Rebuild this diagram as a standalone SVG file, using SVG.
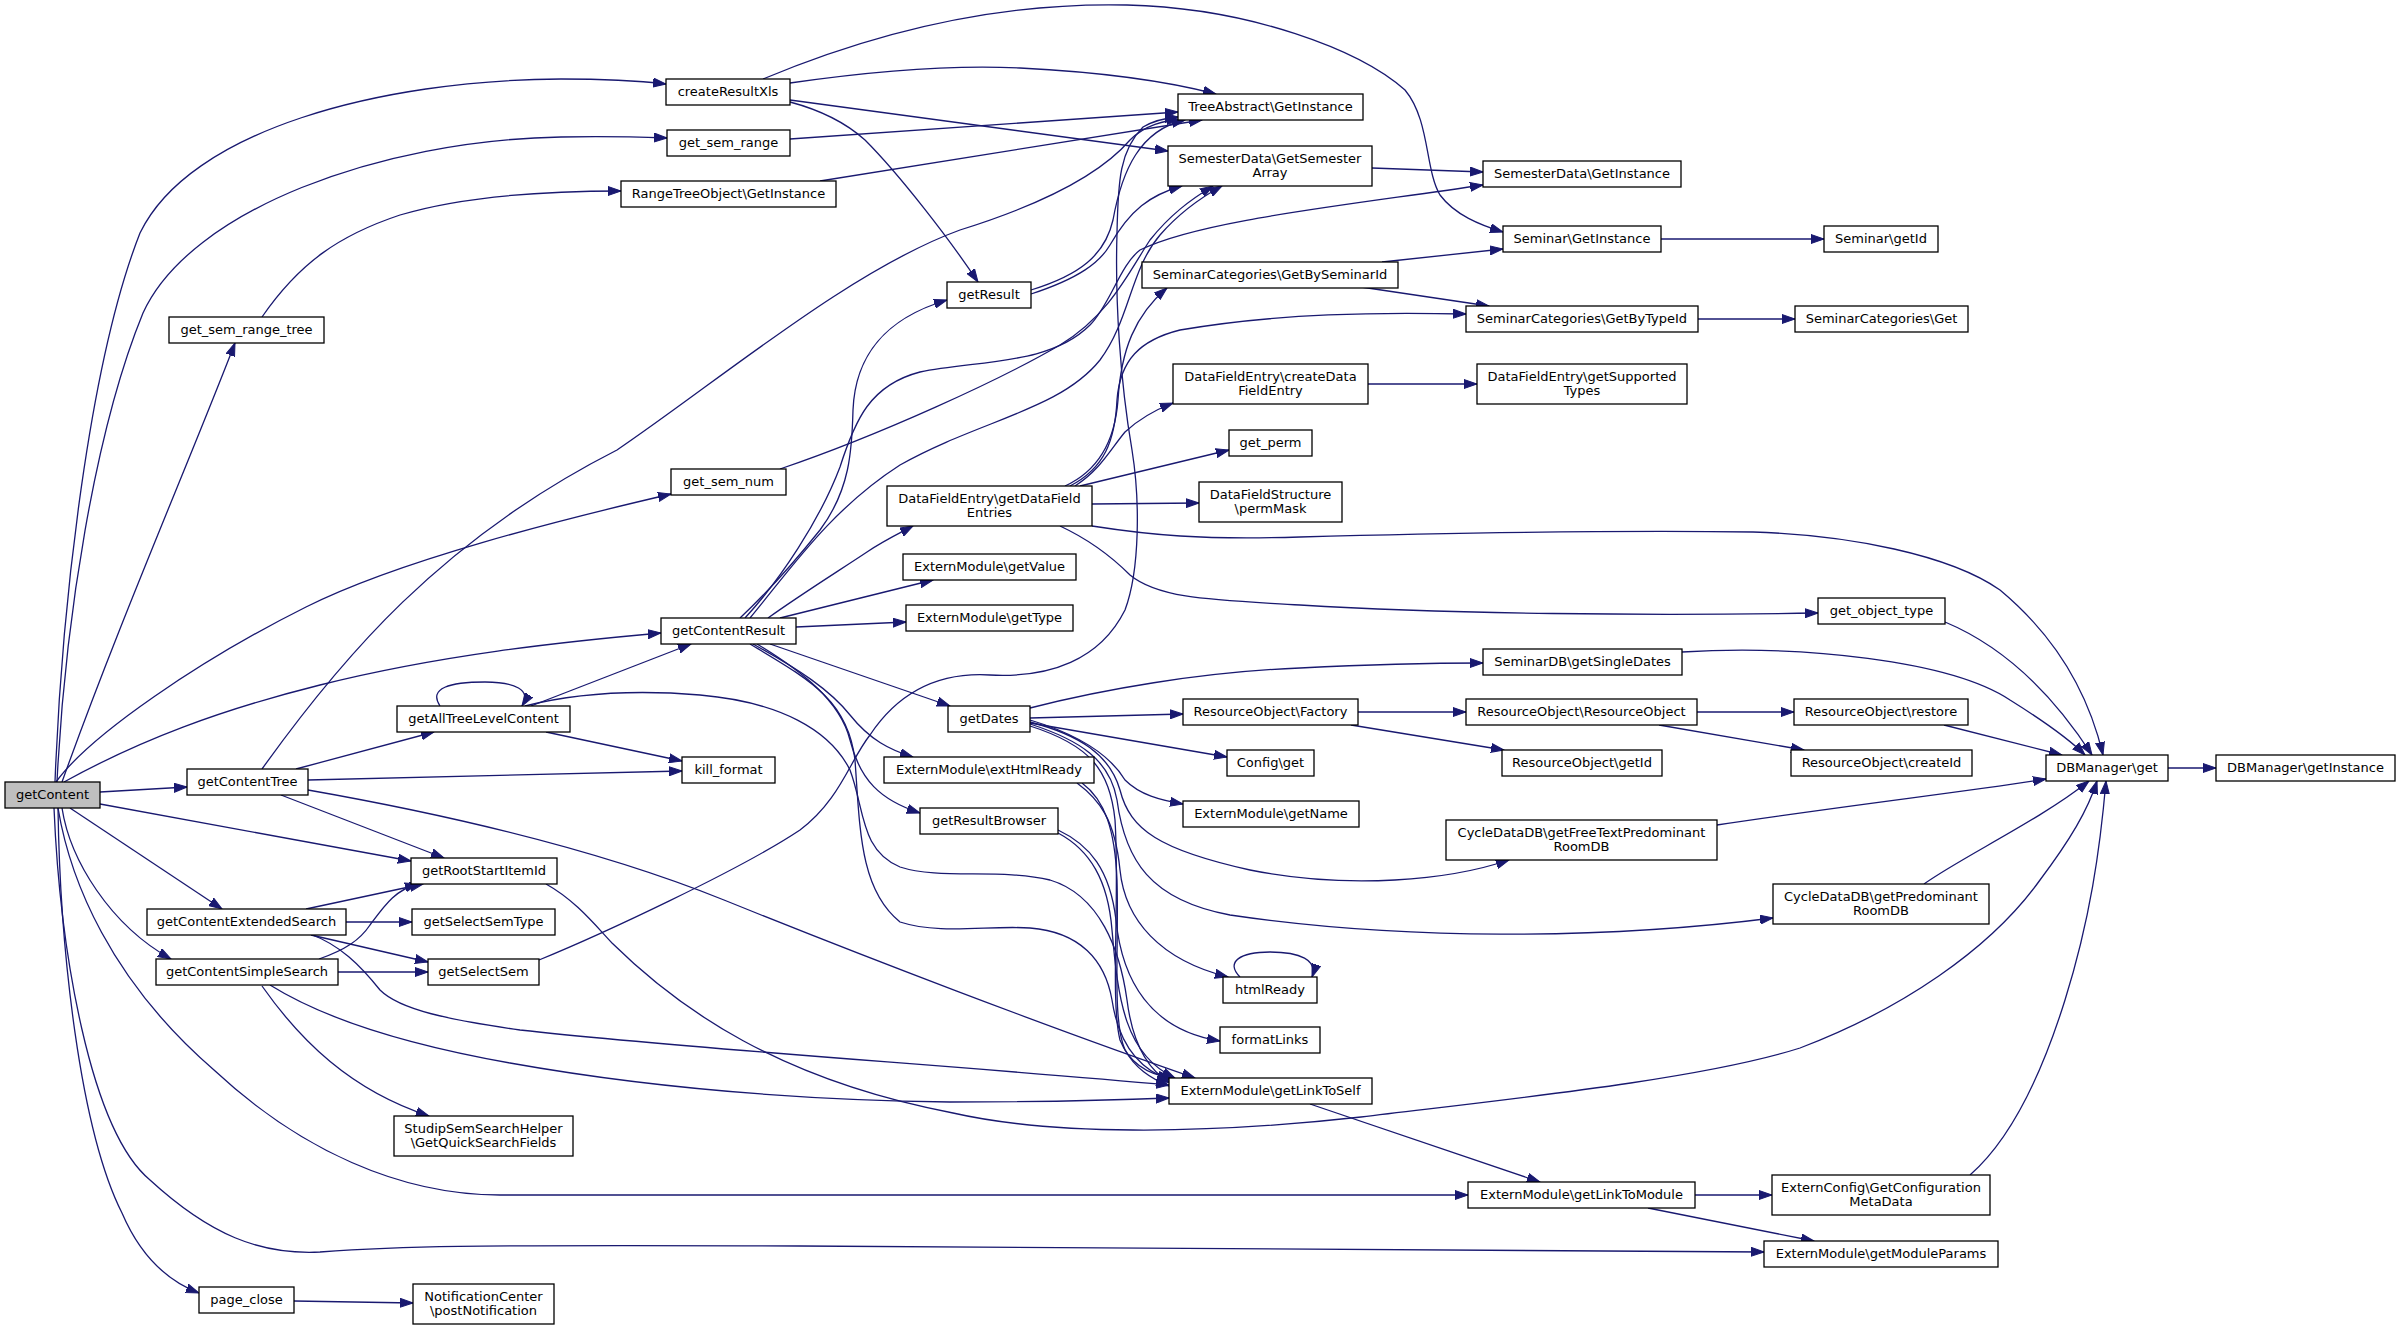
<svg xmlns="http://www.w3.org/2000/svg" width="2401" height="1330" viewBox="0 0 2401 1330">
<style>
.n rect{fill:#fff;stroke:#000;stroke-width:1.3}
.root rect{fill:#bfbfbf}
text{font-family:"DejaVu Sans","Liberation Sans",sans-serif;font-size:13px;fill:#000;text-anchor:middle}
#edges path{fill:none;stroke:#191970;stroke-width:1.3;marker-end:url(#a)}
</style>
<defs>
<marker id="a" markerUnits="userSpaceOnUse" markerWidth="14" markerHeight="10" refX="13" refY="5" orient="auto" viewBox="0 0 14 10"><path d="M0,0.5 L13,5 L0,9.5 z" fill="#191970" stroke="#191970" stroke-width="1"/></marker>
</defs>
<rect width="2401" height="1330" fill="#fff"/>
<g id="edges">
<path d="M55,782 C62,600 90,360 140,233 C190,130 380,80 561,79 C600,79 640,81 666,84"/>
<path d="M57,782 C65,620 95,430 143,313 C190,210 380,140 561,137 C600,136 640,137 667,138"/>
<path d="M62,782 C120,620 190,460 235,343"/>
<path d="M262,317 C300,262 340,235 400,215 C460,197 540,191 621,191"/>
<path d="M56,782 C90,735 200,660 306,607 C400,560 560,520 671,494"/>
<path d="M64,782 C140,740 220,710 320,685 C440,655 560,642 661,633"/>
<path d="M100,792 L187,787"/>
<path d="M100,804 L411,861"/>
<path d="M70,808 L222,909"/>
<path d="M62,808 C70,860 110,925 171,959"/>
<path d="M58,808 C70,880 110,980 214,1070 C300,1150 400,1195 500,1195 L1468,1195"/>
<path d="M54,808 C60,950 90,1130 150,1180 C210,1235 260,1255 320,1252 C400,1246 450,1245 800,1246 C1200,1247 1500,1248 1764,1252"/>
<path d="M58,808 C60,950 80,1130 122,1213 C140,1255 165,1280 199,1293"/>
<path d="M763,79 C880,30 1000,2 1127,5 C1250,8 1360,50 1405,90 C1430,120 1425,170 1440,195 C1455,215 1480,225 1503,232"/>
<path d="M790,83 C880,70 960,65 1020,68 C1100,72 1170,82 1216,94"/>
<path d="M790,100 L1168,151"/>
<path d="M790,102 C820,110 845,122 865,140 C900,175 950,240 978,282"/>
<path d="M790,139 L1178,112"/>
<path d="M820,181 L1202,120"/>
<path d="M262,769 C340,660 440,540 617,450 C720,380 850,270 960,230 C1040,205 1100,175 1130,140 C1145,125 1165,120 1180,120"/>
<path d="M1031,290 C1080,275 1105,255 1113,220 C1122,170 1140,130 1185,120"/>
<path d="M1031,294 C1080,278 1100,262 1110,245 C1130,210 1150,195 1182,186"/>
<path d="M539,960 C600,935 740,870 800,830 C840,800 850,760 870,735 C900,690 940,672 990,675 C1050,678 1100,660 1125,610 C1140,570 1140,500 1132,450 C1120,380 1115,300 1117,233 C1118,180 1120,150 1143,127 C1155,120 1165,118 1178,117"/>
<path d="M780,469 C880,435 1000,380 1060,345 C1110,315 1130,270 1150,240 C1170,215 1190,200 1213,186"/>
<path d="M740,618 C770,590 800,555 820,530 C850,490 852,450 853,410 C855,360 880,320 947,300"/>
<path d="M745,618 C780,580 820,520 840,467 C855,420 870,385 920,372 C980,360 1050,365 1090,325 C1110,305 1120,265 1140,250 C1200,220 1350,205 1483,185"/>
<path d="M750,618 C790,570 830,510 900,465 C980,420 1060,410 1100,360 C1130,320 1130,270 1160,235 C1180,212 1200,198 1222,186"/>
<path d="M768,618 C800,595 840,570 867,552 C885,540 900,533 913,526"/>
<path d="M780,618 L933,580"/>
<path d="M796,627 L906,622"/>
<path d="M770,644 L950,706"/>
<path d="M753,644 C800,670 830,690 850,715 C870,740 890,750 913,757"/>
<path d="M757,644 C800,670 840,700 850,740 C860,780 880,800 920,813"/>
<path d="M750,644 C810,680 848,700 855,760 C860,830 860,890 900,922 C940,935 990,925 1030,928 C1080,932 1105,960 1112,1000 C1118,1040 1135,1068 1170,1080"/>
<path d="M440,706 C428,688 450,682 485,682 C515,682 532,690 522,706"/>
<path d="M531,706 L691,644"/>
<path d="M546,732 L682,761"/>
<path d="M525,706 C580,692 640,690 700,695 C780,702 830,730 850,770 C865,810 860,850 900,867 C940,880 1000,868 1050,880 C1100,895 1120,950 1127,1000 C1132,1040 1145,1068 1170,1083"/>
<path d="M296,769 L434,732"/>
<path d="M308,780 L682,771"/>
<path d="M281,795 L444,858"/>
<path d="M308,790 C450,815 600,850 724,900 C860,955 1050,1028 1195,1078"/>
<path d="M546,884 C575,900 595,925 612,943 C680,1010 780,1080 953,1113 C1050,1135 1200,1135 1361,1117 C1500,1100 1700,1080 1800,1048 C1900,1010 1990,950 2040,880 C2070,840 2088,810 2097,781"/>
<path d="M306,909 L423,884"/>
<path d="M346,922 L412,922"/>
<path d="M311,935 L428,962"/>
<path d="M310,934 C340,945 360,965 380,990 C400,1010 450,1020 520,1030 C700,1050 950,1065 1169,1085"/>
<path d="M319,959 C345,950 360,940 370,925 C385,905 395,890 418,884"/>
<path d="M338,972 L428,972"/>
<path d="M262,986 C300,1040 350,1090 429,1116"/>
<path d="M270,985 C310,1010 380,1040 510,1063 C650,1088 800,1100 950,1102 C1050,1102 1120,1100 1169,1098"/>
<path d="M1065,486 C1100,470 1115,440 1118,400 C1121,350 1135,315 1167,288"/>
<path d="M1070,486 C1105,468 1115,440 1117,400 C1120,360 1140,340 1180,330 C1280,313 1380,312 1466,314"/>
<path d="M1075,486 C1100,470 1110,450 1125,432 C1140,418 1155,410 1173,403"/>
<path d="M1080,486 L1229,450"/>
<path d="M1092,504 L1199,503"/>
<path d="M1092,526 C1150,535 1200,540 1300,537 C1450,533 1600,530 1753,532 C1850,535 1950,555 2000,590 C2060,640 2090,700 2103,755"/>
<path d="M1060,526 C1090,540 1110,555 1130,575 C1160,600 1220,600 1300,605 C1450,614 1650,616 1818,613"/>
<path d="M1030,708 C1100,690 1200,672 1300,668 C1380,664 1440,663 1483,663"/>
<path d="M1030,718 L1183,714"/>
<path d="M1030,723 L1227,757"/>
<path d="M1030,720 C1080,735 1110,755 1125,780 C1140,795 1160,800 1183,804"/>
<path d="M1030,722 C1080,735 1110,755 1120,790 C1130,830 1160,850 1250,870 C1350,890 1450,880 1509,860"/>
<path d="M1030,724 C1080,740 1110,760 1117,800 C1125,860 1150,900 1230,915 C1400,940 1600,940 1773,918"/>
<path d="M1030,726 C1090,745 1110,770 1115,820 C1120,900 1110,1000 1120,1040 C1130,1065 1150,1075 1172,1078"/>
<path d="M1077,783 C1100,800 1115,820 1120,870 C1125,920 1160,960 1228,977"/>
<path d="M1082,783 C1105,800 1115,830 1117,880 C1119,950 1112,1020 1125,1050 C1135,1068 1150,1078 1169,1086"/>
<path d="M1058,830 C1090,845 1110,870 1116,920 C1122,980 1150,1030 1220,1041"/>
<path d="M1058,833 C1090,850 1108,880 1112,930 C1118,1000 1125,1055 1175,1078"/>
<path d="M1240,977 C1225,962 1240,952 1270,952 C1300,952 1318,960 1312,977"/>
<path d="M1310,1104 L1540,1182"/>
<path d="M1695,1195 L1772,1195"/>
<path d="M1648,1208 L1814,1241"/>
<path d="M1970,1175 C2010,1140 2040,1080 2065,1000 C2090,920 2100,850 2106,781"/>
<path d="M1924,884 C1960,858 2040,820 2089,781"/>
<path d="M1717,825 C1850,805 1980,790 2046,779"/>
<path d="M1945,622 C2000,645 2050,690 2092,755"/>
<path d="M1682,652 C1800,645 1950,660 2010,700 C2050,725 2070,740 2085,755"/>
<path d="M1944,725 L2062,755"/>
<path d="M2168,768 L2216,768"/>
<path d="M1358,712 L1466,712"/>
<path d="M1351,725 L1504,750"/>
<path d="M1697,712 L1794,712"/>
<path d="M1659,725 L1804,750"/>
<path d="M1382,262 L1503,249"/>
<path d="M1361,287 L1489,306"/>
<path d="M1372,168 L1483,172"/>
<path d="M1661,239 L1824,239"/>
<path d="M1698,319 L1795,319"/>
<path d="M1368,384 L1477,384"/>
<path d="M294,1301 L413,1303"/>
</g>
<g id="n_getContent" class="n root"><rect x="5" y="782" width="95" height="26"/><text x="52.5" y="798.5">getContent</text></g>
<g id="n_createResultXls" class="n"><rect x="666" y="79" width="124" height="26"/><text x="728" y="95.5">createResultXls</text></g>
<g id="n_get_sem_range" class="n"><rect x="667" y="130" width="123" height="26"/><text x="728.5" y="146.5">get_sem_range</text></g>
<g id="n_RangeTreeObject_GetInstance" class="n"><rect x="621" y="181" width="215" height="26"/><text x="728.5" y="197.5">RangeTreeObject\GetInstance</text></g>
<g id="n_get_sem_range_tree" class="n"><rect x="169" y="317" width="155" height="26"/><text x="246.5" y="333.5">get_sem_range_tree</text></g>
<g id="n_TreeAbstract_GetInstance" class="n"><rect x="1178" y="94" width="185" height="26"/><text x="1270.5" y="110.5">TreeAbstract\GetInstance</text></g>
<g id="n_SemesterData_GetSemesterArray" class="n"><rect x="1168" y="146" width="204" height="40"/><text x="1270" y="163">SemesterData\GetSemester</text><text x="1270" y="177">Array</text></g>
<g id="n_SemesterData_GetInstance" class="n"><rect x="1483" y="161" width="198" height="26"/><text x="1582" y="177.5">SemesterData\GetInstance</text></g>
<g id="n_Seminar_GetInstance" class="n"><rect x="1503" y="226" width="158" height="26"/><text x="1582" y="242.5">Seminar\GetInstance</text></g>
<g id="n_Seminar_getId" class="n"><rect x="1824" y="226" width="114" height="26"/><text x="1881" y="242.5">Seminar\getId</text></g>
<g id="n_getResult" class="n"><rect x="947" y="282" width="84" height="26"/><text x="989" y="298.5">getResult</text></g>
<g id="n_SeminarCategories_GetBySeminarId" class="n"><rect x="1142" y="262" width="256" height="26"/><text x="1270" y="278.5">SeminarCategories\GetBySeminarId</text></g>
<g id="n_SeminarCategories_GetByTypeId" class="n"><rect x="1466" y="306" width="232" height="26"/><text x="1582" y="322.5">SeminarCategories\GetByTypeId</text></g>
<g id="n_SeminarCategories_Get" class="n"><rect x="1795" y="306" width="173" height="26"/><text x="1881.5" y="322.5">SeminarCategories\Get</text></g>
<g id="n_DataFieldEntry_createDataFieldEntry" class="n"><rect x="1173" y="364" width="195" height="40"/><text x="1270.5" y="381">DataFieldEntry\createData</text><text x="1270.5" y="395">FieldEntry</text></g>
<g id="n_DataFieldEntry_getSupportedTypes" class="n"><rect x="1477" y="364" width="210" height="40"/><text x="1582" y="381">DataFieldEntry\getSupported</text><text x="1582" y="395">Types</text></g>
<g id="n_get_perm" class="n"><rect x="1229" y="430" width="83" height="26"/><text x="1270.5" y="446.5">get_perm</text></g>
<g id="n_get_sem_num" class="n"><rect x="671" y="469" width="115" height="26"/><text x="728.5" y="485.5">get_sem_num</text></g>
<g id="n_DataFieldEntry_getDataFieldEntries" class="n"><rect x="887" y="486" width="205" height="40"/><text x="989.5" y="503">DataFieldEntry\getDataField</text><text x="989.5" y="517">Entries</text></g>
<g id="n_DataFieldStructure_permMask" class="n"><rect x="1199" y="482" width="143" height="40"/><text x="1270.5" y="499">DataFieldStructure</text><text x="1270.5" y="513">\permMask</text></g>
<g id="n_ExternModule_getValue" class="n"><rect x="903" y="554" width="173" height="26"/><text x="989.5" y="570.5">ExternModule\getValue</text></g>
<g id="n_ExternModule_getType" class="n"><rect x="906" y="605" width="167" height="26"/><text x="989.5" y="621.5">ExternModule\getType</text></g>
<g id="n_getContentResult" class="n"><rect x="661" y="618" width="135" height="26"/><text x="728.5" y="634.5">getContentResult</text></g>
<g id="n_get_object_type" class="n"><rect x="1818" y="598" width="127" height="26"/><text x="1881.5" y="614.5">get_object_type</text></g>
<g id="n_SeminarDB_getSingleDates" class="n"><rect x="1483" y="649" width="199" height="26"/><text x="1582.5" y="665.5">SeminarDB\getSingleDates</text></g>
<g id="n_getAllTreeLevelContent" class="n"><rect x="397" y="706" width="173" height="26"/><text x="483.5" y="722.5">getAllTreeLevelContent</text></g>
<g id="n_getDates" class="n"><rect x="948" y="706" width="82" height="26"/><text x="989" y="722.5">getDates</text></g>
<g id="n_ResourceObject_Factory" class="n"><rect x="1183" y="699" width="175" height="26"/><text x="1270.5" y="715.5">ResourceObject\Factory</text></g>
<g id="n_ResourceObject_ResourceObject" class="n"><rect x="1466" y="699" width="231" height="26"/><text x="1581.5" y="715.5">ResourceObject\ResourceObject</text></g>
<g id="n_ResourceObject_restore" class="n"><rect x="1794" y="699" width="174" height="26"/><text x="1881" y="715.5">ResourceObject\restore</text></g>
<g id="n_kill_format" class="n"><rect x="682" y="757" width="93" height="26"/><text x="728.5" y="773.5">kill_format</text></g>
<g id="n_ExternModule_extHtmlReady" class="n"><rect x="884" y="757" width="210" height="26"/><text x="989" y="773.5">ExternModule\extHtmlReady</text></g>
<g id="n_Config_get" class="n"><rect x="1227" y="750" width="87" height="26"/><text x="1270.5" y="766.5">Config\get</text></g>
<g id="n_ResourceObject_getId" class="n"><rect x="1502" y="750" width="160" height="26"/><text x="1582" y="766.5">ResourceObject\getId</text></g>
<g id="n_ResourceObject_createId" class="n"><rect x="1791" y="750" width="181" height="26"/><text x="1881.5" y="766.5">ResourceObject\createId</text></g>
<g id="n_DBManager_get" class="n"><rect x="2046" y="755" width="122" height="26"/><text x="2107" y="771.5">DBManager\get</text></g>
<g id="n_DBManager_getInstance" class="n"><rect x="2216" y="755" width="179" height="26"/><text x="2305.5" y="771.5">DBManager\getInstance</text></g>
<g id="n_getContentTree" class="n"><rect x="187" y="769" width="121" height="26"/><text x="247.5" y="785.5">getContentTree</text></g>
<g id="n_getResultBrowser" class="n"><rect x="920" y="808" width="138" height="26"/><text x="989" y="824.5">getResultBrowser</text></g>
<g id="n_ExternModule_getName" class="n"><rect x="1183" y="801" width="176" height="26"/><text x="1271" y="817.5">ExternModule\getName</text></g>
<g id="n_CycleDataDB_getFreeTextPredominantRoomDB" class="n"><rect x="1446" y="820" width="271" height="40"/><text x="1581.5" y="837">CycleDataDB\getFreeTextPredominant</text><text x="1581.5" y="851">RoomDB</text></g>
<g id="n_getRootStartItemId" class="n"><rect x="411" y="858" width="146" height="26"/><text x="484" y="874.5">getRootStartItemId</text></g>
<g id="n_CycleDataDB_getPredominantRoomDB" class="n"><rect x="1773" y="884" width="216" height="40"/><text x="1881" y="901">CycleDataDB\getPredominant</text><text x="1881" y="915">RoomDB</text></g>
<g id="n_getContentExtendedSearch" class="n"><rect x="147" y="909" width="199" height="26"/><text x="246.5" y="925.5">getContentExtendedSearch</text></g>
<g id="n_getSelectSemType" class="n"><rect x="412" y="909" width="143" height="26"/><text x="483.5" y="925.5">getSelectSemType</text></g>
<g id="n_getContentSimpleSearch" class="n"><rect x="156" y="959" width="182" height="26"/><text x="247" y="975.5">getContentSimpleSearch</text></g>
<g id="n_getSelectSem" class="n"><rect x="428" y="959" width="111" height="26"/><text x="483.5" y="975.5">getSelectSem</text></g>
<g id="n_htmlReady" class="n"><rect x="1223" y="977" width="94" height="26"/><text x="1270" y="993.5">htmlReady</text></g>
<g id="n_formatLinks" class="n"><rect x="1220" y="1027" width="100" height="26"/><text x="1270" y="1043.5">formatLinks</text></g>
<g id="n_ExternModule_getLinkToSelf" class="n"><rect x="1169" y="1078" width="203" height="26"/><text x="1270.5" y="1094.5">ExternModule\getLinkToSelf</text></g>
<g id="n_StudipSemSearchHelper_GetQuickSearchFields" class="n"><rect x="394" y="1116" width="179" height="40"/><text x="483.5" y="1133">StudipSemSearchHelper</text><text x="483.5" y="1147">\GetQuickSearchFields</text></g>
<g id="n_ExternConfig_GetConfigurationMetaData" class="n"><rect x="1772" y="1175" width="218" height="40"/><text x="1881" y="1192">ExternConfig\GetConfiguration</text><text x="1881" y="1206">MetaData</text></g>
<g id="n_ExternModule_getLinkToModule" class="n"><rect x="1468" y="1182" width="227" height="26"/><text x="1581.5" y="1198.5">ExternModule\getLinkToModule</text></g>
<g id="n_ExternModule_getModuleParams" class="n"><rect x="1764" y="1241" width="234" height="26"/><text x="1881" y="1257.5">ExternModule\getModuleParams</text></g>
<g id="n_page_close" class="n"><rect x="199" y="1287" width="95" height="26"/><text x="246.5" y="1303.5">page_close</text></g>
<g id="n_NotificationCenter_postNotification" class="n"><rect x="413" y="1284" width="141" height="40"/><text x="483.5" y="1301">NotificationCenter</text><text x="483.5" y="1315">\postNotification</text></g>
</svg>
